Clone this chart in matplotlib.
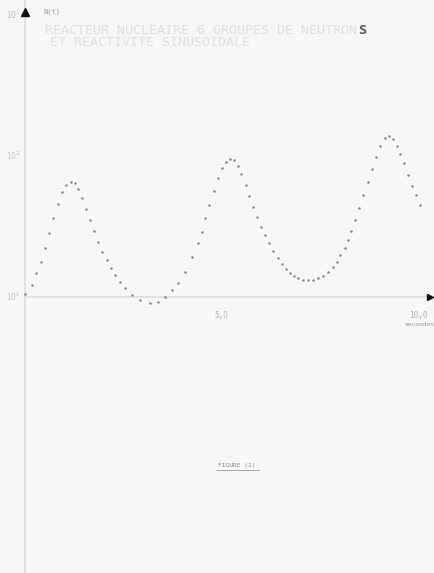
import numpy as np
import matplotlib
matplotlib.use("Agg")
import matplotlib.pyplot as plt

t = [0.00, 0.17, 0.28, 0.40, 0.51, 0.62, 0.72, 0.83, 0.95, 1.04,
     1.16, 1.27, 1.36, 1.46, 1.55, 1.65, 1.76, 1.87, 1.97, 2.08,
     2.18, 2.29, 2.42, 2.54, 2.72, 2.93, 3.18, 3.38, 3.56, 3.73,
     3.89, 4.07, 4.24, 4.40, 4.50, 4.59, 4.69, 4.81, 4.91, 5.01,
     5.11, 5.23, 5.33, 5.43, 5.51, 5.62, 5.71, 5.81, 5.91, 6.01,
     6.11, 6.22, 6.32, 6.43, 6.53, 6.64, 6.74, 6.84, 6.96, 7.08,
     7.21, 7.34, 7.46, 7.59, 7.72, 7.83, 7.93, 8.03, 8.14, 8.23,
     8.31, 8.41, 8.51, 8.61, 8.72, 8.82, 8.93, 9.03, 9.16, 9.27,
     9.37, 9.46, 9.54, 9.64, 9.75, 9.84, 9.95, 10.05]
N = [10.5, 12.2, 14.8, 17.7, 22.3, 28.5, 36.3, 45.7, 55.6, 62.3,
     65.4, 64.4, 58.4, 50.4, 42.1, 35.2, 29.4, 24.5, 20.8, 18.3,
     16.1, 14.3, 12.8, 11.6, 10.3, 9.5, 9.1, 9.2, 10.0, 11.2,
     12.6, 15.0, 19.2, 24.2, 28.9, 36.3, 44.9, 56.0, 69.8, 82.2,
     90.6, 95.7, 93.7, 85.0, 74.5, 62.3, 52.0, 43.6, 36.9, 31.5,
     27.5, 24.2, 21.2, 18.9, 17.1, 15.8, 14.8, 14.1, 13.6, 13.2,
     13.1, 13.2, 13.6, 14.1, 15.1, 16.3, 17.8, 19.9, 22.3, 25.4,
     29.5, 35.2, 42.8, 52.8, 65.8, 80.9, 98.9, 117.8, 134.3, 138.7,
     132.1, 117.8, 103.3, 89.1, 73.3, 61.2, 52.8, 44.9]

xticks = [5.0, 10.0]
xtick_labels = ["5,0", "10,0"]
ytick_labels = ["10$^1$", "10$^2$", "10$^3$"]

W, H = 434, 573
fig = plt.figure(figsize=(W / 100, H / 100), dpi=100, facecolor="#f7f7f7")
ax = fig.add_axes([0, 0, 1, 1])
ax.set_facecolor("#f7f7f7")
ax.set_yscale("log")
ax.set_xlim(-0.636, 10.41)
ax.set_ylim(10 ** -0.957, 10 ** 3.106)
ax.axis("off")

# axes du trace
ax.axvline(0, color="#dddddd", lw=1.2)
ax.plot([0, 10.25], [10, 10], color="#dddddd", lw=1.2)
ax.plot(0, 10 ** 3.02, marker="^", color="#111111", ms=6)
ax.plot(10.3, 10, marker=">", color="#111111", ms=5)

ax.plot(t, N, linestyle="none", marker="o", ms=1.8, color="#8a8a8a", mew=0)

mono = "DejaVu Sans Mono"
for xt, lab in zip(xticks, xtick_labels):
    ax.text(xt, 10 ** 0.9, lab, ha="center", va="top", fontsize=5.5,
            color="#b5b5b5", family=mono)
ax.text(10.05, 10 ** 0.82, "secondes", ha="center", va="top", fontsize=4.5,
        color="#999999", family=mono)
for k, lab in enumerate(ytick_labels):
    ax.text(-0.1, 10 ** (k + 1), lab, ha="right", va="center", fontsize=5.5,
            color="#c0c0c0")

fig.text(43 / W, 1 - 12 / H, "N(t)", fontsize=5, color="#a0a0a0",
         family=mono, va="center")
fig.text(45 / W, 1 - 30 / H, "REACTEUR NUCLEAIRE 6 GROUPES DE NEUTRON",
         fontsize=9.6, color="#e0e0e0", family=mono, va="center")
fig.text(358 / W, 1 - 30 / H, "S", fontsize=9.6, color="#555555",
         family=mono, va="center", weight="bold")
fig.text(50 / W, 1 - 43 / H, "ET REACTIVITE SINUSOIDALE", fontsize=9.6,
         color="#e2e2e2", family=mono, va="center")
fig.text(237 / W, 1 - 466 / H, "FIGURE (1)", fontsize=4.5, color="#888888",
         family=mono, ha="center", va="center")
fig.add_artist(plt.Line2D([216 / W, 259 / W], [1 - 470 / H, 1 - 470 / H],
                          color="#999999", lw=0.6))

fig.savefig("out.png", dpi=100, facecolor=fig.get_facecolor())
